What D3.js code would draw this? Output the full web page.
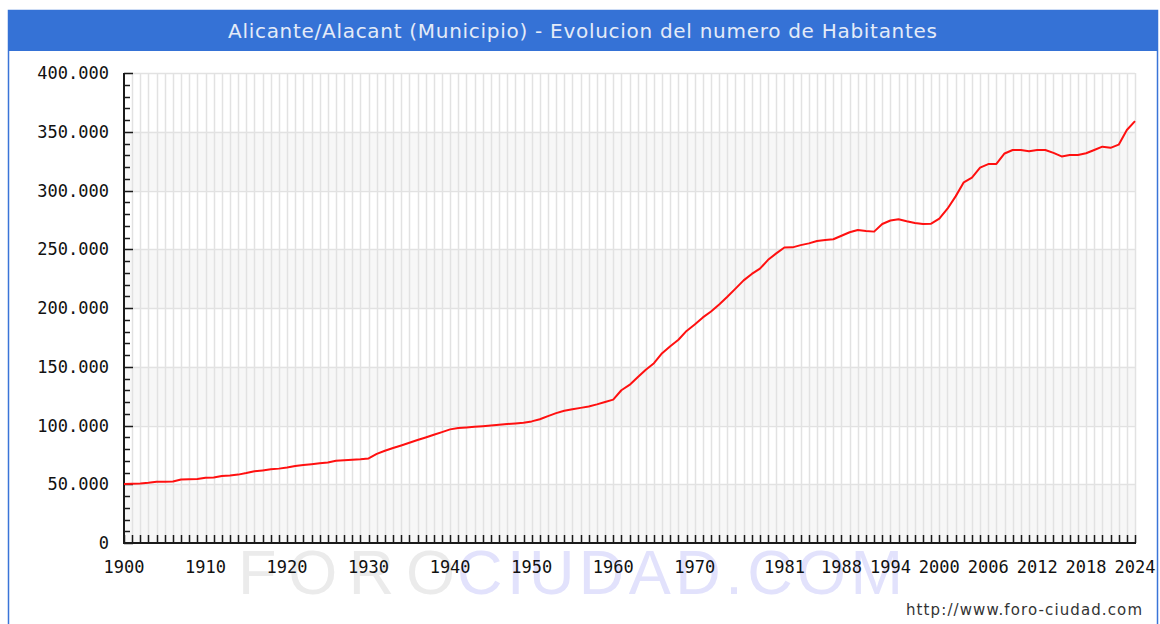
<!DOCTYPE html>
<html>
<head>
<meta charset="utf-8">
<script src="https://cdn.jsdelivr.net/npm/d3@7"></script>
<style>
    html, body { margin: 0; padding: 0; background: #ffffff; }
    svg { display: block; }
</style>
</head>
<body>
<div id="chart"></div>
<script>
// population of Alicante/Alacant, one value per year
const years = d3.range(1900, 2025);
const population = [
    50200, 50400, 50600, 51200, 52200, 52200, 52400, 54000, 54200, 54400,
    55500, 55700, 57000, 57500, 58200, 59500, 61000, 61800, 62700, 63300,
    64200, 65500, 66300, 67000, 67800, 68600, 70000, 70400, 70800, 71200,
    72000, 75800, 78500, 80800, 83000, 85300, 87600, 89800, 92100, 94400,
    96700, 97800, 98300, 98900, 99400, 100000, 100600, 101200, 101800, 102400,
    103500, 105300, 108000, 110500, 112500, 113800, 115000, 116200, 118000, 120000,
    122000, 130000, 134500, 141000, 147500, 153000, 161500, 167500, 173000, 180500,
    186000, 192000, 197000, 203000, 209600, 216500, 223500, 229000, 233500, 241000,
    246500, 251500, 251600, 253500, 255000, 257000, 257900, 258500, 261500, 264500,
    266400, 265500, 265000, 271500, 274500, 275500, 273800, 272300, 271500, 271800,
    276000, 284500, 295000, 307000, 311000, 319500, 322500, 322600, 331500, 334500,
    334500, 333500, 334500, 334500, 332000, 329000, 330200, 330300, 331700, 334500,
    337300, 336300, 339000, 351500, 359000,
];
const xTickYears = [1900, 1910, 1920, 1930, 1940, 1950, 1960, 1970, 1981, 1988, 1994, 2000, 2006, 2012, 2018, 2024];
const yTickValues = [0, 50000, 100000, 150000, 200000, 250000, 300000, 350000, 400000];
const titleText = 'Alicante/Alacant (Municipio) - Evolucion del numero de Habitantes';

const width = 1160;
const height = 624;
const plot = { left: 124, right: 1135, top: 73, bottom: 543 };

const locale = d3.formatLocale({ decimal: ',', thousands: '.', grouping: [3], currency: ['', ''] });
const fmt = locale.format(',');

const svg = d3
    .select('#chart')
    .append('svg')
    .attr('width', width)
    .attr('height', height)
    .attr('viewBox', [0, 0, width, height]);

const x = d3.scaleLinear().domain([1900, 2024]).range([plot.left, plot.right]);
const y = d3.scaleLinear().domain([0, 400000]).range([plot.bottom, plot.top]);

// frame and title bar
svg.append('rect')
    .attr('x', 8.5).attr('y', 10.5)
    .attr('width', 1149).attr('height', 640)
    .attr('fill', 'none')
    .attr('stroke', '#3a74d8')
    .attr('stroke-width', 1.5);
svg.append('rect')
    .attr('x', 8).attr('y', 10)
    .attr('width', 1150).attr('height', 41)
    .attr('fill', '#3572d6');
svg.append('text')
    .attr('x', 228).attr('y', 38)
    .attr('textLength', 709)
    .attr('lengthAdjust', 'spacing')
    .attr('font-family', 'DejaVu Sans, Verdana, sans-serif')
    .attr('font-size', 20)
    .attr('fill', '#e4ebf8')
    .text(titleText);

// alternating bands
const bandStarts = yTickValues.filter((d, i) => i % 2 === 0 && d < 400000);
svg.append('g')
    .selectAll('rect')
    .data(bandStarts)
    .join('rect')
    .attr('x', plot.left)
    .attr('y', (d) => y(d + 50000))
    .attr('width', plot.right - plot.left)
    .attr('height', (d) => y(d) - y(d + 50000))
    .attr('fill', '#f7f7f7');

// grid
const grid = svg.append('g').attr('stroke', '#e2e2e2').attr('stroke-width', 1.5);
grid.selectAll('.vgrid')
    .data(years.slice(1))
    .join('line')
    .attr('class', 'vgrid')
    .attr('x1', (d) => Math.round(x(d)) + 0.5)
    .attr('x2', (d) => Math.round(x(d)) + 0.5)
    .attr('y1', plot.top)
    .attr('y2', plot.bottom);
grid.selectAll('.hgrid')
    .data(yTickValues.slice(1))
    .join('line')
    .attr('class', 'hgrid')
    .attr('x1', plot.left)
    .attr('x2', plot.right)
    .attr('y1', (d) => Math.round(y(d)) + 0.5)
    .attr('y2', (d) => Math.round(y(d)) + 0.5);

// watermark
const mark = svg.append('g')
    .attr('font-family', 'Liberation Sans, Arial, sans-serif')
    .attr('font-size', 63);
mark.append('text')
    .attr('x', 238).attr('y', 594)
    .attr('textLength', 217).attr('lengthAdjust', 'spacing')
    .attr('fill', '#ebebeb')
    .text('FORO');
mark.append('text')
    .attr('x', 457).attr('y', 594)
    .attr('textLength', 446).attr('lengthAdjust', 'spacing')
    .attr('fill', '#e2e2fc')
    .text('CIUDAD.COM');

// axes
const axisColor = '#1a1a1a';
const axes = svg.append('g').attr('stroke', axisColor);
axes.selectAll('.ytick')
    .data(d3.range(0, 400001, 10000))
    .join('line')
    .attr('class', 'ytick')
    .attr('x1', plot.left)
    .attr('x2', (d) => plot.left + (d % 50000 === 0 ? 9 : 6))
    .attr('y1', (d) => Math.round(y(d)) + 0.5)
    .attr('y2', (d) => Math.round(y(d)) + 0.5)
    .attr('stroke-width', 1.5);
axes.selectAll('.xtick')
    .data(years)
    .join('line')
    .attr('class', 'xtick')
    .attr('x1', (d) => Math.round(x(d)) + 0.5)
    .attr('x2', (d) => Math.round(x(d)) + 0.5)
    .attr('y1', plot.bottom)
    .attr('y2', plot.bottom - 8)
    .attr('stroke-width', 1.5);
axes.append('line')
    .attr('x1', plot.left).attr('x2', plot.left)
    .attr('y1', plot.top).attr('y2', plot.bottom + 1)
    .attr('stroke-width', 2);
axes.append('line')
    .attr('x1', plot.left - 1).attr('x2', plot.right + 1)
    .attr('y1', plot.bottom).attr('y2', plot.bottom)
    .attr('stroke-width', 2);

const labels = svg.append('g')
    .attr('font-family', 'DejaVu Sans Mono, monospace')
    .attr('font-size', 17)
    .attr('fill', '#111');
labels.selectAll('.ylabel')
    .data(yTickValues)
    .join('text')
    .attr('class', 'ylabel')
    .attr('x', 109)
    .attr('y', (d) => y(d) + 6)
    .attr('text-anchor', 'end')
    .text((d) => fmt(d));
labels.selectAll('.xlabel')
    .data(xTickYears)
    .join('text')
    .attr('class', 'xlabel')
    .attr('x', (d) => x(d))
    .attr('y', 573)
    .attr('text-anchor', 'middle')
    .text((d) => d);

// population line
const line = d3.line()
    .x((d, i) => x(years[i]))
    .y((d) => y(d));
svg.append('path')
    .datum(population)
    .attr('d', line)
    .attr('fill', 'none')
    .attr('stroke', '#ff1010')
    .attr('stroke-width', 2)
    .attr('stroke-linejoin', 'round');

svg.append('text')
    .attr('x', 906).attr('y', 615)
    .attr('textLength', 236)
    .attr('lengthAdjust', 'spacing')
    .attr('font-family', 'DejaVu Sans, Verdana, sans-serif')
    .attr('font-size', 15)
    .attr('fill', '#333')
    .text('http://www.foro-ciudad.com');
</script>
</body>
</html>
